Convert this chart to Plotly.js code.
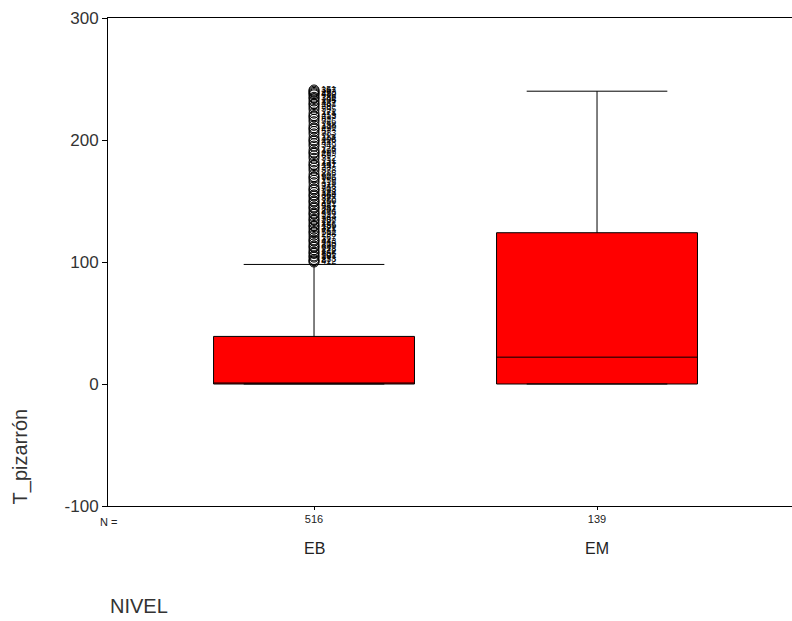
<!DOCTYPE html>
<html><head><meta charset="utf-8">
<script src="https://cdn.plot.ly/plotly-3.0.1.min.js"></script>
<style>html,body{margin:0;padding:0;background:#fff;}#chart{width:792px;height:621px;}</style>
</head><body><div id="chart"></div>
<script>
// Data
const categories = ["EB", "EM"];
const nCounts = ["516", "139"];
const q1 = [0, 0];
const medians = [0, 22];
const q3 = [39, 124];
const lowerWhisker = [0, 0];
const upperWhisker = [98, 240];
const yTickVals = [-100, 0, 100, 200, 300];
const yTickText = ["-100", "0", "100", "200", "300"];
const outlierValues = [100,101,102,104,105,107,108,110,112,113,115,117,118,120,122,124,125,127,129,130,132,134,135,137,139,140,142,144,145,147,149,150,152,154,155,157,159,160,162,165,167,169,170,172,175,177,179,180,182,185,187,189,190,192,195,197,199,200,202,205,207,209,210,212,215,217,219,220,222,225,227,229,230,232,234,235,237,238,239,240,241];
const outlierCases = ["412","87","233","19","501","356","142","278","64","390","215","443","31","167","298","512","76","321","189","455","12","267","398","143","59","476","204","337","98","421","256","180","37","364","489","122","303","71","248","415","159","506","92","286","378","23","197","441","131","312","65","259","497","176","349","44","226","408","113","383","57","291","470","138","326","82","213","459","171","395","28","264","437","105","342","186","480","49","273","367","151"];
const outlierCategory = outlierValues.map(() => 0);

const catPos = [0, 1];

const boxTrace = {
  type: "box",
  x: catPos,
  q1: q1,
  median: medians,
  q3: q3,
  lowerfence: lowerWhisker,
  upperfence: upperWhisker,
  width: 0.71,
  whiskerwidth: 0.7,
  fillcolor: "#ff0000",
  line: {color: "#000000", width: 1},
  boxpoints: false,
  hoverinfo: "skip",
  showlegend: false
};

const outTrace = {
  type: "scatter",
  mode: "markers+text",
  x: outlierCategory,
  y: outlierValues,
  text: outlierCases,
  textposition: "middle right",
  textfont: {family: "Liberation Sans, Arial, sans-serif", size: 9, color: "#000"},
  marker: {symbol: "circle-open", size: 10, color: "#000", line: {width: 1, color: "#000"}},
  cliponaxis: false,
  hoverinfo: "skip",
  showlegend: false
};

const font = {family: "Liberation Sans, Arial, sans-serif", color: "#333"};

const annotations = categories.map((c, i) => ({
  x: catPos[i], xref: "x", y: -0.087, yref: "paper", yanchor: "middle",
  text: c, showarrow: false, font: {family: font.family, size: 16, color: "#222"}
}));
annotations.push({x: -0.728, xref: "x", xanchor: "center", y: -0.032, yref: "paper", yanchor: "middle",
  text: "N =", showarrow: false, font: {family: font.family, size: 11, color: "#222"}});
annotations.push({x: 0, xref: "paper", xanchor: "left", y: -0.205, yref: "paper", yanchor: "middle",
  text: "NIVEL", showarrow: false, font: {family: font.family, size: 20, color: "#333"}});
annotations.push({x: -0.128, xref: "paper", xanchor: "center", y: 0, yref: "paper", yanchor: "bottom",
  text: "T_pizarrón", textangle: -90, showarrow: false, font: {family: font.family, size: 20, color: "#333"}});

const layout = {
  width: 792, height: 621,
  margin: {l: 108, r: 0, t: 18, b: 115, pad: 0},
  paper_bgcolor: "#fff", plot_bgcolor: "#fff",
  font: font,
  xaxis: {
    range: [-0.728, 1.689], tickvals: catPos, ticktext: nCounts,
    showgrid: false, zeroline: false, showline: true, linecolor: "#000", linewidth: 1, mirror: true,
    ticks: "outside", ticklen: 3, tickcolor: "#000",
    tickfont: {family: font.family, size: 11, color: "#222"}
  },
  yaxis: {
    range: [-100, 300], tickvals: yTickVals, ticktext: yTickText,
    showgrid: false, zeroline: false, showline: true, linecolor: "#000", linewidth: 1,
    ticks: "outside", ticklen: 5, tickcolor: "#000",
    tickfont: {family: font.family, size: 17, color: "#333"}
  },
  annotations: annotations
};

Plotly.newPlot("chart", [boxTrace, outTrace], layout, {displayModeBar: false, staticPlot: true});
</script></body></html>
